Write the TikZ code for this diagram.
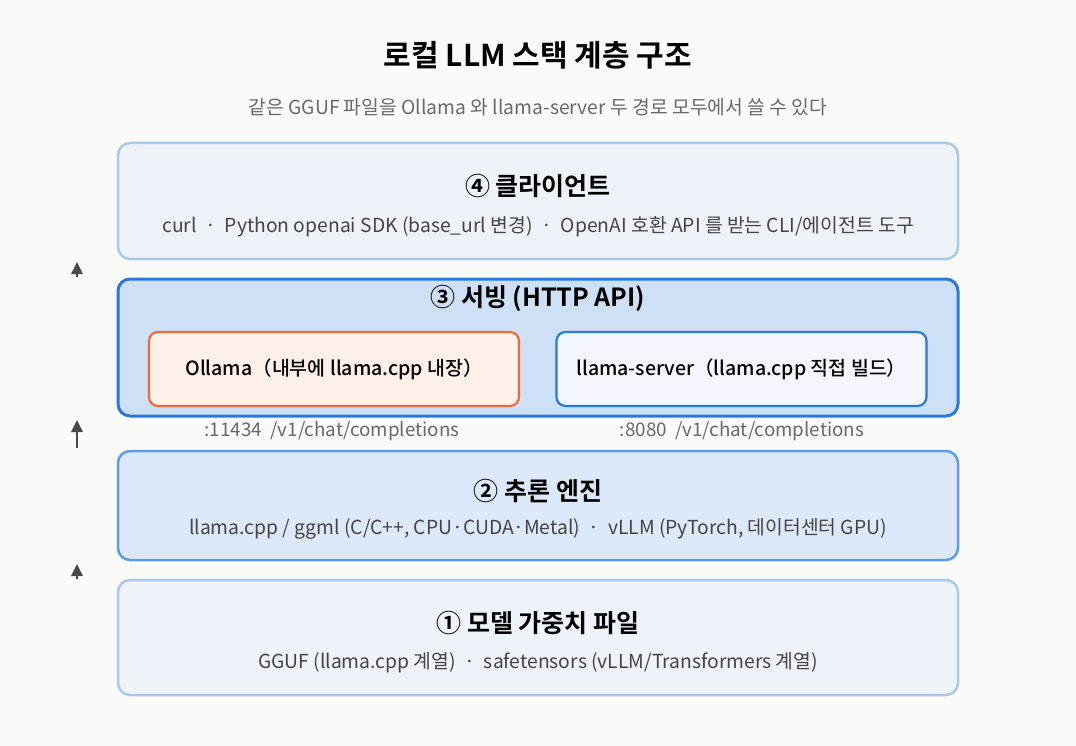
\documentclass[tikz,border=0pt]{standalone}
\usepackage{fontspec}
\setmainfont{Noto Sans CJK KR}[BoldFont={Noto Sans CJK KR Bold}]
\newfontfamily\medfont{Noto Sans CJK KR Medium}
\usetikzlibrary{arrows.meta}
\definecolor{bgcol}{HTML}{FBFBF9}
\definecolor{palefill}{HTML}{EEF3FA}
\definecolor{paleline}{HTML}{A8C8EE}
\definecolor{servefill}{HTML}{CEE0F6}
\definecolor{serveline}{HTML}{2B78D6}
\definecolor{enginefill}{HTML}{DDE9FA}
\definecolor{engineline}{HTML}{5C9DE6}
\definecolor{ollamafill}{HTML}{FFF0EA}
\definecolor{ollamaline}{HTML}{EE6A3C}
\definecolor{serverfill}{HTML}{F4F8FE}
\definecolor{textgray}{HTML}{444444}
\definecolor{arrowgray}{HTML}{4A4A4A}

\begin{document}
\begin{tikzpicture}[x=1pt,y=-1pt,
    layer/.style={rounded corners=12pt, line width=2.5pt, minimum width=840pt, inner sep=0pt},
    inner/.style={rounded corners=9pt, line width=2.2pt, minimum width=370pt, minimum height=74pt, inner sep=0pt,
        font=\fontsize{19.5}{23}\medfont},
    head/.style={font=\fontsize{25}{29}\selectfont\bfseries},
    sub/.style={font=\fontsize{19.3}{22}\selectfont, text=textgray},
    up/.style={-{Triangle[length=12pt,width=11pt]}, line width=2.5pt, draw=arrowgray}]
    \fill[bgcol] (0,0) rectangle (1076,746);
    \useasboundingbox (0,0) rectangle (1076,746);
    \node[font=\fontsize{30}{35}\selectfont\bfseries] (title) at (538,55) {로컬 LLM 스택 계층 구조};
    \node[sub, text=textgray!80] (subtitle) at (538,107) {같은 GGUF 파일을 Ollama 와 llama-server 두 경로 모두에서 쓸 수 있다};

    \node[layer, fill=palefill, draw=paleline, minimum height=116pt] (client) at (538,201) {};
    \node[head] (clienthead) at (538,186) {④ 클라이언트};
    \node[sub] (clientsub) at (538,227) {curl \ · \ Python openai SDK (base\_url 변경) \ · \ OpenAI 호환 API 를 받는 CLI/에이전트 도구};

    \node[layer, fill=servefill, draw=serveline, line width=3pt, minimum height=137pt] (serving) at (538,347.5) {};
    \node[head] (servinghead) at (538,298) {③ 서빙 (HTTP API)};
    \node[inner, fill=ollamafill, draw=ollamaline] (ollama) at (334,369) {Ollama（내부에 llama.cpp 내장）};
    \node[inner, fill=serverfill, draw=serveline] (server) at (741.5,369) {llama-server（llama.cpp 직접 빌드）};
    \node[sub, text=textgray!80, font=\fontsize{18.8}{22}\selectfont] (ollamaport) at (332,431) {:11434 \ /v1/chat/completions};
    \node[sub, text=textgray!80, font=\fontsize{18.8}{22}\selectfont] (serverport) at (742,431) {:8080 \ /v1/chat/completions};

    \node[layer, fill=enginefill, draw=engineline, minimum height=109pt] (engine) at (538,505.5) {};
    \node[head] (enginehead) at (538,491) {② 추론 엔진};
    \node[sub] (enginesub) at (538,529) {llama.cpp / ggml (C/C++, CPU·CUDA·Metal) \ · \ vLLM (PyTorch, 데이터센터 GPU)};

    \node[layer, fill=palefill, draw=paleline, minimum height=115pt] (model) at (538,637.5) {};
    \node[head] (modelhead) at (538,623) {① 모델 가중치 파일};
    \node[sub] (modelsub) at (538,663) {GGUF (llama.cpp 계열) \ · \ safetensors (vLLM/Transformers 계열)};

    \coordinate (a1) at (77,277);
    \coordinate (b1) at (77,262);
    \coordinate (a2) at (77,448);
    \coordinate (b2) at (77,420);
    \coordinate (a3) at (77,579);
    \coordinate (b3) at (77,564);
    \draw[up] (a1) -- (b1);
    \draw[up] (a2) -- (b2);
    \draw[up] (a3) -- (b3);
\end{tikzpicture}
\end{document}
